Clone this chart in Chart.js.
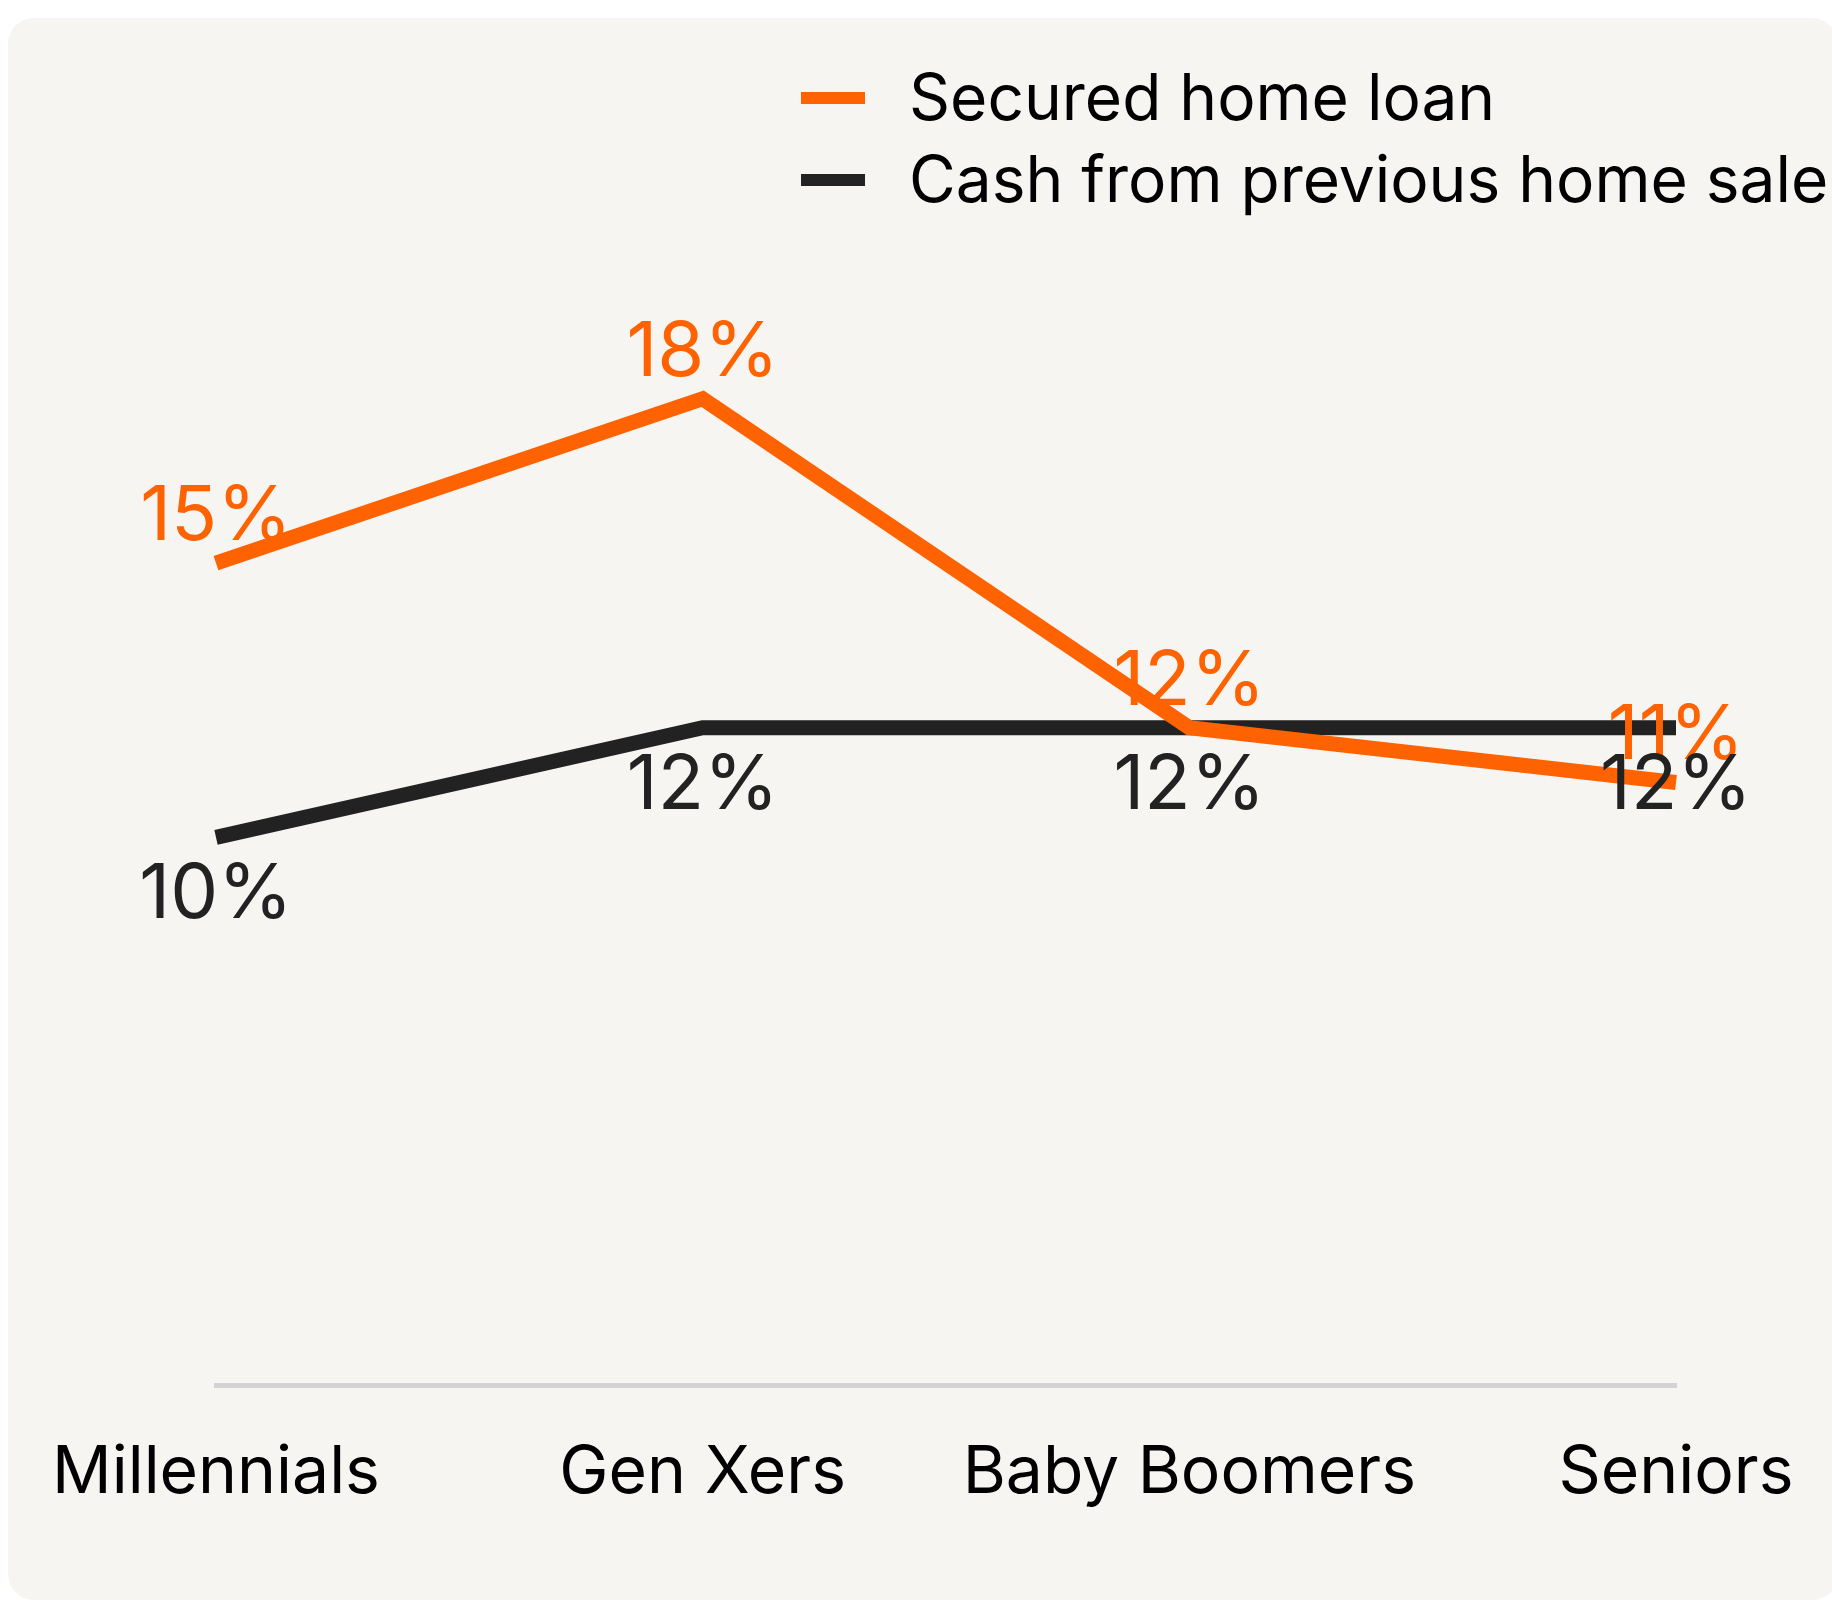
<!DOCTYPE html>
<html>
<head>
<meta charset="utf-8">
<script src="https://cdn.jsdelivr.net/npm/chart.js@4.4.1/dist/chart.umd.min.js"></script>
<style>
  html, body { margin: 0; padding: 0; background: #ffffff; }
  body { width: 1832px; height: 1601px; position: relative; overflow: hidden; }
  #carte {
    position: absolute; left: 8px; top: 18px; width: 1830px; height: 1582px;
    background: #f6f5f1; border-radius: 26px;
  }
  #zone { position: absolute; left: 0; top: 0; width: 1832px; height: 1601px; }
</style>
</head>
<body>
<div id="carte"></div>
<div id="zone"><canvas id="grafico"></canvas></div>
<script>
const geracoes = ["Millennials", "Gen Xers", "Baby Boomers", "Seniors"];
const emprestimo = [15, 18, 12, 11]; // Secured home loan (%)
const dinheiroVenda = [10, 12, 12, 12]; // Cash from previous home sale (%)

const LARANJA = "#ff6200";
const PRETO = "#222222";
const FONTE = "Inter, 'Noto Sans', sans-serif";

// rótulos de valor: laranja acima, preto abaixo
const rotulosPlugin = {
  id: "rotulos",
  afterDatasetsDraw(chart) {
    const ctx = chart.ctx;
    ctx.save();
    ctx.font = "76px " + FONTE;
    ctx.textAlign = "center";
    chart.data.datasets.forEach((ds, i) => {
      const meta = chart.getDatasetMeta(i);
      meta.data.forEach((pt, j) => {
        ctx.fillStyle = ds.borderColor;
        if (ds.acima) {
          ctx.textBaseline = "bottom";
          ctx.fillText(ds.data[j] + "%", pt.x, pt.y - 8);
        } else {
          ctx.textBaseline = "top";
          ctx.fillText(ds.data[j] + "%", pt.x, pt.y + 20);
        }
      });
    });
    ctx.restore();
  },
};

// legenda desenhada à mão, alinhada à esquerda
const legendaPlugin = {
  id: "legenda",
  afterDraw(chart) {
    const ctx = chart.ctx;
    ctx.save();
    ctx.font = "64px " + FONTE;
    ctx.textBaseline = "middle";
    ctx.textAlign = "left";
    chart.data.datasets.forEach((ds, i) => {
      const y = 98 + i * 82;
      ctx.strokeStyle = ds.borderColor;
      ctx.lineWidth = 12;
      ctx.beginPath();
      ctx.moveTo(801, y);
      ctx.lineTo(865, y);
      ctx.stroke();
      ctx.fillStyle = "#000000";
      ctx.fillText(ds.label, 909, y + 3);
    });
    ctx.restore();
  },
};

const ctx = document.getElementById("grafico").getContext("2d");
const grafico = new Chart(ctx, {
  type: "line",
  data: {
    labels: geracoes,
    datasets: [
      {
        label: "Secured home loan",
        data: emprestimo,
        borderColor: LARANJA,
        borderWidth: 15,
        pointRadius: 0,
        tension: 0,
        acima: true,
      },
      {
        label: "Cash from previous home sale",
        data: dinheiroVenda,
        borderColor: PRETO,
        borderWidth: 15,
        pointRadius: 0,
        tension: 0,
        acima: false,
      },
    ],
  },
  options: {
    responsive: true,
    maintainAspectRatio: false,
    animation: false,
    layout: { padding: { left: 216, right: 156, top: 289, bottom: 40 } },
    plugins: {
      legend: { display: false },
      tooltip: { enabled: false },
    },
    scales: {
      x: {
        offset: false,
        grid: { display: false, drawTicks: false },
        border: { display: true, color: "#d3d3d3", width: 5 },
        ticks: {
          color: "#000000",
          padding: 48,
          font: { family: FONTE, size: 66 },
          maxRotation: 0,
          autoSkip: false,
        },
        afterFit(scale) {
          // o espaço lateral vem só do layout.padding
          scale.paddingLeft = 0;
          scale.paddingRight = 0;
        },
      },
      y: { display: false, min: 0, max: 20 },
    },
  },
  plugins: [rotulosPlugin, legendaPlugin],
});
</script>
</body>
</html>
